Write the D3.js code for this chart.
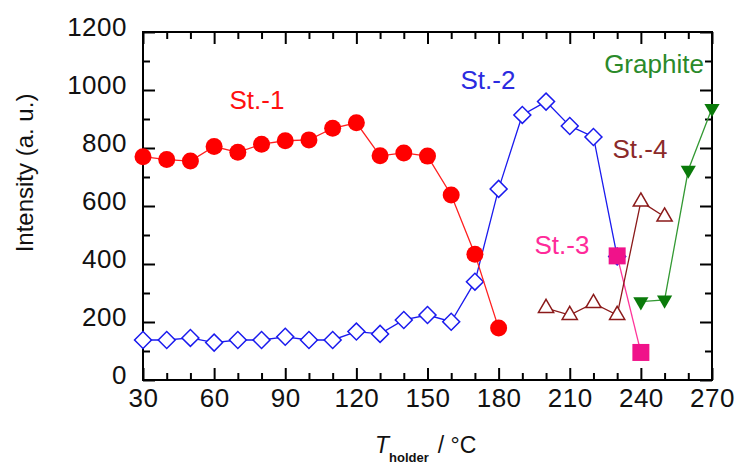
<!DOCTYPE html>
<html>
<head>
<meta charset="utf-8">
<style>
  body { margin: 0; background: #fff; }
  text { font-family: "Liberation Sans", Arial, sans-serif; }
</style>
</head>
<body>
<div id="chart"></div>
<script src="https://d3js.org/d3.v7.min.js"></script>
<script>
// data
const xMajor = [30, 60, 90, 120, 150, 180, 210, 240, 270];
const yMajor = [0, 200, 400, 600, 800, 1000, 1200];

const tSt1 = [30, 40, 50, 60, 70, 80, 90, 100, 110, 120, 130, 140, 150, 160, 170, 180];
const st1 = [770, 760, 755, 805, 785, 813, 825, 828, 868, 887, 773, 783, 772, 638, 434, 179];

const tSt2 = [30, 40, 50, 60, 70, 80, 90, 100, 110, 120, 130, 140, 150, 160, 170, 180, 190, 200, 210, 220, 230];
const st2 = [138, 138, 145, 129, 138, 138, 149, 138, 138, 167, 159, 207, 224, 201, 339, 659, 914, 960, 876, 838, 426];

const tSt3 = [230, 240];
const st3 = [428, 95];

const tSt4 = [200, 210, 220, 230, 240, 250];
const st4 = [248, 224, 265, 224, 615, 563];

const tGr = [240, 250, 260, 270];
const graphite = [270, 276, 724, 937];

const W = 736, H = 466;
const mLeft = 143, mRight = 712, mTop = 32, mBottom = 380;

const x = d3.scaleLinear().domain([30, 270]).range([mLeft, mRight]);
const y = d3.scaleLinear().domain([0, 1200]).range([mBottom, mTop]);

const svg = d3.select("#chart").append("svg")
  .attr("width", W).attr("height", H);

// minor ticks (every 10 on x, every 100 on y)
const xMinor = d3.range(30, 271, 10).filter(v => v % 30 !== 0);
const yMinor = d3.range(100, 1200, 200);

function styleAxis(g) {
  g.select(".domain").remove();
  g.selectAll(".tick line").attr("stroke", "#000").attr("stroke-width", 2);
}

// bottom
svg.append("g").attr("transform", `translate(0,${mBottom})`)
  .call(d3.axisBottom(x).tickValues(xMajor).tickSize(-12).tickPadding(8).tickFormat(d3.format("d")))
  .call(styleAxis)
  .call(g => g.selectAll(".tick text").attr("font-size", 26).attr("fill", "#111")
    .attr("letter-spacing", 0.5).attr("dy", "0.72em"));
svg.append("g").attr("transform", `translate(0,${mBottom})`)
  .call(d3.axisBottom(x).tickValues(xMinor).tickSize(-7).tickFormat(""))
  .call(styleAxis);
// top
svg.append("g").attr("transform", `translate(0,${mTop})`)
  .call(d3.axisTop(x).tickValues(xMajor).tickSize(-12).tickFormat(""))
  .call(styleAxis);
svg.append("g").attr("transform", `translate(0,${mTop})`)
  .call(d3.axisTop(x).tickValues(xMinor).tickSize(-7).tickFormat(""))
  .call(styleAxis);
// left
svg.append("g").attr("transform", `translate(${mLeft},0)`)
  .call(d3.axisLeft(y).tickValues(yMajor).tickSize(-12).tickPadding(16).tickFormat(d3.format("d")))
  .call(styleAxis)
  .call(g => g.selectAll(".tick text").attr("font-size", 26).attr("fill", "#111")
    .attr("letter-spacing", 0.5).attr("dy", "0.12em"));
svg.append("g").attr("transform", `translate(${mLeft},0)`)
  .call(d3.axisLeft(y).tickValues(yMinor).tickSize(-7).tickFormat(""))
  .call(styleAxis);
// right
svg.append("g").attr("transform", `translate(${mRight},0)`)
  .call(d3.axisRight(y).tickValues(yMajor).tickSize(-12).tickFormat(""))
  .call(styleAxis);
svg.append("g").attr("transform", `translate(${mRight},0)`)
  .call(d3.axisRight(y).tickValues(yMinor).tickSize(-7).tickFormat(""))
  .call(styleAxis);

// frame
svg.append("rect")
  .attr("x", mLeft).attr("y", mTop)
  .attr("width", mRight - mLeft).attr("height", mBottom - mTop)
  .attr("fill", "none").attr("stroke", "#000").attr("stroke-width", 2);

const line = d3.line().x(d => x(d[0])).y(d => y(d[1]));

function series(ts, vs, lineColor, markerColor, symbol, size, filled, rotate) {
  const pts = ts.map((t, i) => [t, vs[i]]);
  svg.append("path").datum(pts)
    .attr("d", line).attr("fill", "none")
    .attr("stroke", lineColor).attr("stroke-width", 1.3);
  svg.selectAll(null).data(pts).enter().append("path")
    .attr("d", d3.symbol().type(symbol).size(size))
    .attr("transform", d => `translate(${x(d[0])},${y(d[1])}) rotate(${rotate})`)
    .attr("fill", filled ? markerColor : "#fff")
    .attr("stroke", markerColor)
    .attr("stroke-width", filled ? 0 : 1.5);
}

series(tSt2, st2, "#1a1aee", "#1a1aee", d3.symbolSquare, 144, false, 45);
series(tSt1, st1, "#ff2020", "#ff0000", d3.symbolCircle, 227, true, 0);
series(tSt3, st3, "#ff3399", "#f0128a", d3.symbolSquare, 289, true, 0);
series(tSt4, st4, "#8b1a1a", "#8b1a1a", d3.symbolTriangle, 100, false, 0);
series(tGr, graphite, "#339933", "#0a7a0a", d3.symbolTriangle, 100, true, 180);

// series labels
const labels = [
  { t: "St.-1", x: 257, y: 109, c: "#ff1010" },
  { t: "St.-2", x: 488, y: 89, c: "#2b2be0" },
  { t: "Graphite", x: 654, y: 73, c: "#2a8a2a" },
  { t: "St.-4", x: 640, y: 158, c: "#8b2a2a" },
  { t: "St.-3", x: 562, y: 254, c: "#ff2a9a" }
];
svg.selectAll(null).data(labels).enter().append("text")
  .attr("x", d => d.x).attr("y", d => d.y)
  .attr("text-anchor", "middle").attr("font-size", 26)
  .attr("fill", d => d.c).text(d => d.t);

// axis titles
svg.append("text")
  .attr("transform", "translate(33,173) rotate(-90)")
  .attr("text-anchor", "middle").attr("font-size", 24).attr("fill", "#111")
  .text("Intensity (a. u.)");

const xt = svg.append("text").attr("x", 375).attr("y", 453).attr("font-size", 23).attr("fill", "#111");
xt.append("tspan").attr("font-style", "italic").text("T");
xt.append("tspan").attr("font-size", 13).attr("font-weight", "bold").attr("dy", 9).text("holder");
xt.append("tspan").attr("dy", -9).attr("dx", 9).text("/ °C");
</script>
</body>
</html>
